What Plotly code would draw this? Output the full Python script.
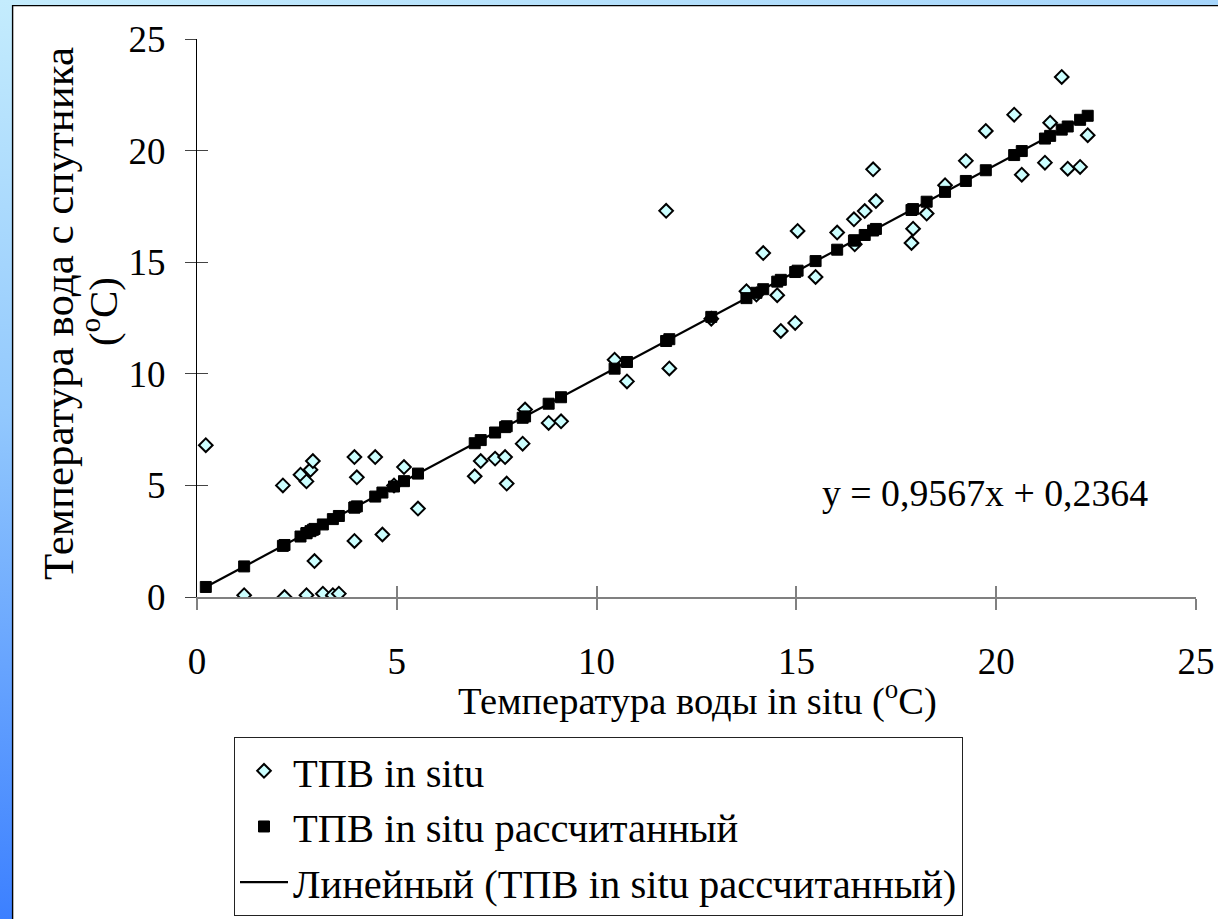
import base64
import plotly.graph_objects as go

# ---- data ----
insitu_x = [0.22, 1.18, 2.15, 2.19, 2.59, 2.74, 2.74, 2.84, 2.90, 2.94, 3.15, 3.40, 3.55,
            3.94, 3.94, 4.00, 4.46, 4.64, 4.93, 5.18, 5.53, 6.95, 7.10, 7.46, 7.71, 7.75,
            8.15, 8.21, 8.80, 9.11, 10.45, 10.76, 11.74, 11.82, 12.87, 13.75, 14.00, 14.17,
            14.52, 14.61, 14.97, 15.03, 15.48, 16.02, 16.44, 16.46, 16.71, 16.92, 16.99,
            17.88, 17.92, 18.26, 18.72, 19.24, 19.74, 20.45, 20.64, 21.22, 21.35, 21.64,
            21.79, 22.10, 22.29]
satellite_y = [6.80, 0.08, 5.00, 0.00, 5.48, 5.18, 0.08, 5.70, 6.09, 1.61, 0.15, 0.08, 0.15,
               6.27, 2.51, 5.36, 6.27, 2.80, 5.00, 5.82, 3.96, 5.41, 6.09, 6.20, 6.27, 5.08,
               6.87, 8.40, 7.80, 7.87, 10.63, 9.66, 17.30, 10.24, 12.47, 13.70, 13.55, 15.41,
               13.52, 11.92, 12.28, 16.40, 14.34, 16.33, 16.92, 15.80, 17.29, 19.16, 17.74,
               15.86, 16.50, 17.18, 18.45, 19.54, 20.88, 21.61, 18.92, 19.46, 21.25, 23.30,
               19.19, 19.27, 20.69]
calc_y = [0.45, 1.37, 2.29, 2.33, 2.71, 2.86, 2.86, 2.95, 3.01, 3.05, 3.25, 3.49, 3.63,
          4.01, 4.01, 4.06, 4.50, 4.68, 4.95, 5.19, 5.53, 6.89, 7.03, 7.37, 7.61, 7.65,
          8.03, 8.09, 8.66, 8.95, 10.23, 10.53, 11.47, 11.55, 12.55, 13.39, 13.63, 13.79,
          14.13, 14.21, 14.56, 14.62, 15.05, 15.56, 15.97, 15.98, 16.22, 16.42, 16.49,
          17.34, 17.38, 17.71, 18.15, 18.64, 19.12, 19.80, 19.98, 20.54, 20.66, 20.94,
          21.08, 21.38, 21.56]
trend_x = [0.22, 22.29]
trend_y = [0.45, 21.56]

x_ticks = [0, 5, 10, 15, 20, 25]
y_ticks = [0, 5, 10, 15, 20, 25]

name_insitu = "ТПВ in situ"
name_calc = "ТПВ in situ рассчитанный"
name_trend = "Линейный (ТПВ in situ рассчитанный)"
equation = "y = 0,9567x + 0,2364"
x_title = "Температура воды in situ (<sup>o</sup>C)"
y_title_line1 = "Температура вода с спутника"
y_title_line2 = "(<sup>o</sup>C)"

# ---- geometry ----
W, H = 1218, 919
L, R, T, B = 197, 22, 39, 322
PW, PH = W - L - R, H - T - B

FONT = "Liberation Serif, Times New Roman, serif"
FS_TICK = 37


def px_x(p):
    return (p - L) / PW


def px_y(p):
    return (H - B - p) / PH


fig = go.Figure()
fig.add_trace(go.Scatter(
    x=insitu_x, y=satellite_y, mode="markers", name=name_insitu,
    marker=dict(symbol="diamond", size=10.5, color="#ccffff", line=dict(color="black", width=2)),
))
fig.add_trace(go.Scatter(
    x=insitu_x, y=calc_y, mode="markers", name=name_calc,
    marker=dict(symbol="square", size=11, color="black", line=dict(color="black", width=1)),
))
fig.add_trace(go.Scatter(
    x=trend_x, y=trend_y, mode="lines", name=name_trend,
    line=dict(color="black", width=2.2),
))
# helper (empty) trace for the mirrored tick axes
fig.add_trace(go.Scatter(x=[], y=[], xaxis="x2", yaxis="y2", showlegend=False, hoverinfo="skip"))

# decorative frame (blue gradient strips + black border)
svg = f"""<svg xmlns='http://www.w3.org/2000/svg' width='{W}' height='{H}' viewBox='0 0 {W} {H}' preserveAspectRatio='none'>
<defs>
<linearGradient id='g1' x1='0' y1='0' x2='0' y2='1'><stop offset='0' stop-color='#c4ecfd'/><stop offset='0.45' stop-color='#92c8fd'/><stop offset='1' stop-color='#3c80ff'/></linearGradient>
<linearGradient id='g2' x1='0' y1='0' x2='1' y2='0'><stop offset='0' stop-color='#c4ecfd'/><stop offset='1' stop-color='#a6d5fb'/></linearGradient>
</defs>
<rect x='0' y='0' width='{W}' height='5' fill='url(#g2)'/>
<rect x='0' y='0' width='12' height='{H}' fill='url(#g1)'/>
<line x1='12.6' y1='5' x2='12.6' y2='{H}' stroke='black' stroke-width='1.4'/>
<line x1='12' y1='5.6' x2='{W}' y2='5.6' stroke='black' stroke-width='1.4'/>
</svg>"""
src = "data:image/svg+xml;base64," + base64.b64encode(svg.encode("utf-8")).decode("ascii")

fig.update_layout(
    width=W, height=H,
    margin=dict(l=L, r=R, t=T, b=B, pad=0, autoexpand=False),
    paper_bgcolor="white", plot_bgcolor="white",
    font=dict(family=FONT, size=FS_TICK, color="black"),
    showlegend=True,
    legend=dict(
        x=px_x(234), y=px_y(737), xanchor="left", yanchor="top",
        bgcolor="white", bordercolor="#222222", borderwidth=1,
        font=dict(family=FONT, size=40.5, color="black"),
        itemwidth=48, tracegroupgap=0,
    ),
    xaxis=dict(
        range=[0, 25], tickvals=x_ticks, ticktext=[str(v) for v in x_ticks],
        showgrid=False, zeroline=False, showline=True, linecolor="#808080", linewidth=1.5,
        ticks="outside", ticklen=11, tickcolor="#808080", tickwidth=1.5,
        ticklabelstandoff=20, tickfont=dict(family=FONT, size=FS_TICK),
    ),
    yaxis=dict(
        range=[0, 25], tickvals=y_ticks, ticktext=[str(v) for v in y_ticks],
        showgrid=False, zeroline=False, showline=True, linecolor="black", linewidth=1.3,
        ticks="outside", ticklen=11, tickcolor="#444444", tickwidth=1.3,
        ticklabelstandoff=12, tickfont=dict(family=FONT, size=FS_TICK),
    ),
    xaxis2=dict(
        range=[0, 25], tickvals=x_ticks, overlaying="x", anchor="y2", side="bottom",
        showgrid=False, zeroline=False, showline=False, showticklabels=False,
        ticks="inside", ticklen=11, tickcolor="#808080", tickwidth=1.5,
    ),
    yaxis2=dict(
        range=[0, 25], tickvals=y_ticks, overlaying="y", anchor="x2", side="left",
        showgrid=False, zeroline=False, showline=False, showticklabels=False,
        ticks="inside", ticklen=11, tickcolor="#444444", tickwidth=1.3,
    ),
    annotations=[
        dict(text=x_title, xref="paper", yref="paper", x=px_x(697), y=px_y(698),
             xanchor="center", yanchor="middle", showarrow=False, font=dict(family=FONT, size=38.5)),
        dict(text=y_title_line1, xref="paper", yref="paper", x=px_x(58), y=px_y(314),
             xanchor="center", yanchor="middle", textangle=-90, showarrow=False,
             font=dict(family=FONT, size=43)),
        dict(text=y_title_line2, xref="paper", yref="paper", x=px_x(100), y=px_y(312),
             xanchor="center", yanchor="middle", textangle=-90, showarrow=False,
             font=dict(family=FONT, size=41)),
        dict(text=equation, xref="paper", yref="paper", x=px_x(985), y=px_y(493),
             xanchor="center", yanchor="middle", showarrow=False, font=dict(family=FONT, size=37.8)),
    ],
    images=[dict(source=src, xref="paper", yref="paper", x=-L / PW, y=1 + T / PH,
                 sizex=W / PW, sizey=H / PH, xanchor="left", yanchor="top",
                 sizing="stretch", layer="above")],
)

fig.write_html("out.html")
